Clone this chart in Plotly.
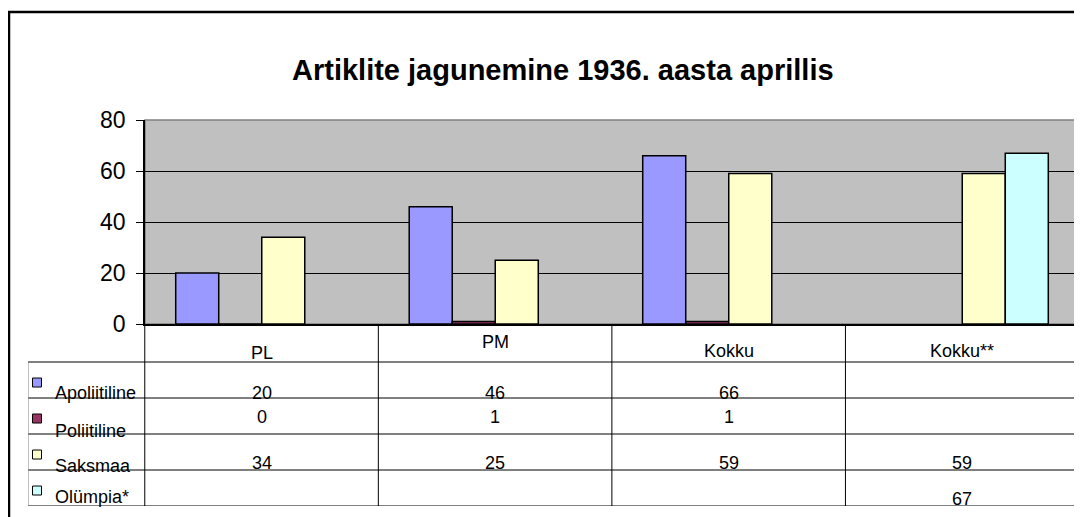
import plotly.graph_objects as go

# data
categories = ["PL", "PM", "Kokku", "Kokku**"]
series_names = ["Apoliitiline", "Poliitiline", "Saksmaa", "Olümpia*"]
apoliitiline = [20, 46, 66, None]
poliitiline = [0, 1, 1, None]
saksmaa = [34, 25, 59, 59]
olumpia = [None, None, None, 67]
y_ticks = [0, 20, 40, 60, 80]

series_values = [apoliitiline, poliitiline, saksmaa, olumpia]
colors = ["#9999FF", "#993366", "#FFFFCC", "#CCFFFF"]
FONT = "Liberation Sans, Arial, sans-serif"

# the page puts the figure 8px in from the top-left corner
OFF = 8
W, H = 1082 - OFF, 517 - OFF

def px(x):
    return (x - OFF) / W

def py(y):
    return 1 - (y - OFF) / H

# odd vertical placement of the text inside the data table cells (Excel look)
header_off = [-0.25, -0.556, -0.306, -0.306]
value_off = [0.861, 0.528, 0.806, 0.806]
label_off = [0.861, 0.903, 0.889, 0.75]
key_off = 0.57
TFONT = 18

fig = go.Figure()

for name, vals, col in zip(series_names, series_values, colors):
    fig.add_trace(go.Bar(
        x=categories, y=vals, name=name,
        marker=dict(color=col, line=dict(color="black", width=1.5)),
        xaxis="x", yaxis="y", showlegend=False,
    ))

# legend keys of the table
fig.add_trace(go.Scatter(
    x=[-0.4615] * len(series_names),
    y=[i + key_off for i in range(len(series_names))],
    mode="markers",
    marker=dict(symbol="square", size=9, color=colors, line=dict(color="black", width=1)),
    xaxis="x2", yaxis="y2", showlegend=False, hoverinfo="skip",
))

annotations = []
# title
annotations.append(dict(
    text="<b>Artiklite jagunemine 1936. aasta aprillis</b>",
    xref="paper", yref="paper", x=px(563), y=py(70), xanchor="center", yanchor="middle",
    showarrow=False, font=dict(family=FONT, size=29, color="black"),
))
# table header
for c, cat in enumerate(categories):
    annotations.append(dict(
        text=cat, xref="x2", yref="y2", x=c + 0.5, y=header_off[c],
        showarrow=False, font=dict(family=FONT, size=TFONT, color="black"),
    ))
# table rows
for r, (name, vals) in enumerate(zip(series_names, series_values)):
    annotations.append(dict(
        text=name, xref="x2", yref="y2", x=-0.393, y=r + label_off[r],
        xanchor="left", showarrow=False, font=dict(family=FONT, size=TFONT, color="black"),
    ))
    for c, v in enumerate(vals):
        if v is None:
            continue
        annotations.append(dict(
            text=str(v), xref="x2", yref="y2", x=c + 0.5, y=r + value_off[r],
            showarrow=False, font=dict(family=FONT, size=TFONT, color="black"),
        ))

shapes = []
# outer chart frame
shapes.append(dict(type="rect", xref="paper", yref="paper",
                   x0=px(9), x1=px(1110), y0=py(540), y1=py(12),
                   line=dict(color="black", width=2.5), layer="below"))
# plot area: grey fill + border
shapes.append(dict(type="rect", xref="x domain", yref="y domain", x0=0, x1=1, y0=0, y1=1,
                   fillcolor="#C0C0C0", line=dict(color="#808080", width=1.5), layer="below"))
# table grid
n_rows = len(series_names)
n_cols = len(categories)
for r in range(n_rows + 1):
    shapes.append(dict(type="line", xref="x2", yref="y2", x0=-0.5, x1=n_cols, y0=r, y1=r,
                       line=dict(color="black", width=1)))
shapes.append(dict(type="line", xref="x2", yref="y2", x0=-0.5, x1=-0.5, y0=0, y1=n_rows,
                   line=dict(color="#808080", width=1)))
for c in range(n_cols + 1):
    shapes.append(dict(type="line", xref="x2", yref="y2", x0=c, x1=c, y0=-1.0556, y1=n_rows,
                       line=dict(color="black", width=1)))

fig.update_layout(
    width=W, height=H, autosize=False,
    margin=dict(l=0, r=0, t=0, b=0, pad=0, autoexpand=False),
    paper_bgcolor="white",
    plot_bgcolor="white",
    barmode="group", bargap=0.263, bargroupgap=0,
    font=dict(family=FONT, color="black"),
    xaxis=dict(domain=[px(145), px(1079)], anchor="y", type="category", automargin=False,
               showticklabels=False, ticks="", showgrid=False,
               showline=True, linecolor="black", linewidth=1.5),
    yaxis=dict(domain=[py(324), py(120)], anchor="x", range=[0, 80], automargin=False,
               tickvals=y_ticks, ticks="outside", ticklen=7, tickcolor="black",
               tickfont=dict(family=FONT, size=23, color="black"),
               ticklabelstandoff=6,
               showgrid=True, gridcolor="black", gridwidth=1,
               showline=True, linecolor="black", linewidth=1.5, zeroline=False),
    xaxis2=dict(domain=[px(28), px(1079)], anchor="y2", range=[-0.5, n_cols],
                visible=False, automargin=False),
    yaxis2=dict(domain=[py(506), py(324)], anchor="x2", range=[n_rows, -1.0556],
                visible=False, automargin=False),
    annotations=annotations,
    shapes=shapes,
)

fig.write_html("out.html")
